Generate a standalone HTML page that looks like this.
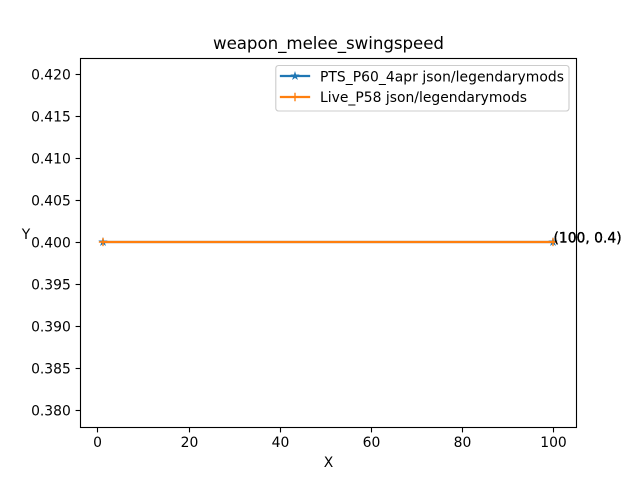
<!DOCTYPE html>
<html>
<head>
<meta charset="utf-8">
<style>
html,body{margin:0;padding:0;background:#fff;}
svg{display:block;font-family:"DejaVu Sans",sans-serif;fill:#000;}
</style>
</head>
<body>
<svg id="chart" width="640" height="480" viewBox="0 0 640 480" xmlns="http://www.w3.org/2000/svg">
  <rect x="0" y="0" width="640" height="480" fill="#fff"/>
  <rect x="80" y="57.6" width="496" height="369.6" fill="#fff"/>
  <g id="ticks"></g>
  <g id="series"></g>
  <g id="annotations"></g>
  <rect x="80.5" y="58.5" width="496" height="369" fill="none" stroke="#000" stroke-width="1.11"/>
  <text x="213" y="49" font-size="16.67" textLength="231">weapon_melee_swingspeed</text>
  <text x="328.5" y="467" font-size="13.89" text-anchor="middle">X</text>
  <text x="26" y="239" font-size="13.89" text-anchor="middle">Y</text>
  <g>
    <rect x="275.8" y="65.5" width="293.2" height="45.5" rx="2.8" ry="2.8" fill="#fff" fill-opacity="0.8" stroke="#ccc" stroke-width="1.11"/>
    <g>
      <line x1="281" y1="76" x2="309" y2="76" stroke="#1f77b4" stroke-width="2.3" stroke-linecap="square"/>
      <polygon fill="#1f77b4" stroke="#1f77b4" stroke-width="0.7" points="295,72.2 295.85,74.83 298.61,74.83 296.38,76.45 297.23,79.07 295,77.45 292.77,79.07 293.62,76.45 291.39,74.83 294.15,74.83"/>
      <text x="320" y="81.3" font-size="13.89" textLength="244">PTS_P60_4apr json/legendarymods</text>
    </g>
    <g>
      <line x1="281" y1="97" x2="309" y2="97" stroke="#ff7f0e" stroke-width="2.3" stroke-linecap="square"/>
      <path d="M295 92.8V101.2M290.8 97H299.2" stroke="#ff7f0e" stroke-width="1.39" fill="none"/>
      <text x="320" y="102" font-size="13.89" textLength="207">Live_P58 json/legendarymods</text>
    </g>
  </g>
</svg>
<script>
const xTicks = [0, 20, 40, 60, 80, 100];
const yTicks = [0.380, 0.385, 0.390, 0.395, 0.400, 0.405, 0.410, 0.415, 0.420];
const ptsX = [1, 100];
const ptsY = [0.4, 0.4];
const liveX = [1, 100];
const liveY = [0.4, 0.4];
const annotationLabels = ["(100, 0.4)", "(100, 0.4)"];

const NS = "http://www.w3.org/2000/svg";
const xScale = v => 80 + (v + 3.95) / 108.9 * 496;
const yScale = v => 427.2 - (v - 0.378) / 0.044 * 369.6;
const tickSnap = v => Math.floor(v) + 0.5;

function make(tag, attrs, parent) {
  const el = document.createElementNS(NS, tag);
  for (const k in attrs) el.setAttribute(k, attrs[k]);
  parent.appendChild(el);
  return el;
}

const ticksG = document.getElementById("ticks");
xTicks.forEach(t => {
  const x = tickSnap(xScale(t));
  const tick = make("line", {x1: x, x2: x, y1: 427.5, y2: 432.4, stroke: "#000", "stroke-width": 1.11}, ticksG);
  
  
  const label = make("text", {x: x, y: 447, "font-size": 13.89, "text-anchor": "middle"}, ticksG);
  
  
  label.textContent = String(t);
});
yTicks.forEach(t => {
  const y = tickSnap(yScale(t));
  const tick = make("line", {x1: 75.6, x2: 80.5, y1: y, y2: y, stroke: "#000", "stroke-width": 1.11}, ticksG);
  
  
  const label = make("text", {x: 70.8, y: y + 5.1, "font-size": 13.89, "text-anchor": "end"}, ticksG);
  
  
  label.textContent = t.toFixed(3);
});

function starPoints(cx, cy, r) {
  const pts = [];
  for (let i = 0; i < 10; i++) {
    const rad = i % 2 === 0 ? r : r * 0.382;
    const a = -Math.PI / 2 + i * Math.PI / 5;
    pts.push((cx + rad * Math.cos(a)).toFixed(2) + "," + (cy + rad * Math.sin(a)).toFixed(2));
  }
  return pts.join(" ");
}

const seriesG = document.getElementById("series");
const ptsLine = make("polyline", {
  points: ptsX.map((x, i) => xScale(x) + "," + Math.round(yScale(ptsY[i]))).join(" "),
  fill: "none", stroke: "#1f77b4", "stroke-width": 2.3, "stroke-linecap": "square"
}, seriesG);


ptsX.forEach((x, i) => {
  const m = make("polygon", {points: starPoints(Math.round(xScale(x)), Math.round(yScale(ptsY[i])), 3.8), fill: "#1f77b4", stroke: "#1f77b4", "stroke-width": 0.7}, seriesG);
  
  
});
const liveLine = make("polyline", {
  points: liveX.map((x, i) => xScale(x) + "," + Math.round(yScale(liveY[i]))).join(" "),
  fill: "none", stroke: "#ff7f0e", "stroke-width": 2.3, "stroke-linecap": "square"
}, seriesG);


liveX.forEach((x, i) => {
  const cx = Math.round(xScale(x)), cy = Math.round(yScale(liveY[i]));
  const m = make("path", {d: "M" + cx + " " + (cy - 4.17) + "V" + (cy + 4.17) + "M" + (cx - 4.17) + " " + cy + "H" + (cx + 4.17), stroke: "#ff7f0e", "stroke-width": 1.39, fill: "none"}, seriesG);
  
  
});

const annG = document.getElementById("annotations");
annotationLabels.forEach((txt, i) => {
  const xs = i === 0 ? ptsX : liveX;
  const ys = i === 0 ? ptsY : liveY;
  const last = xs.length - 1;
  const a = make("text", {x: xScale(xs[last]), y: yScale(ys[last]), "font-size": 13.89, stroke: "#000", "stroke-width": 0.2}, annG);
  
  
  a.textContent = txt;
});
</script>
</body>
</html>
